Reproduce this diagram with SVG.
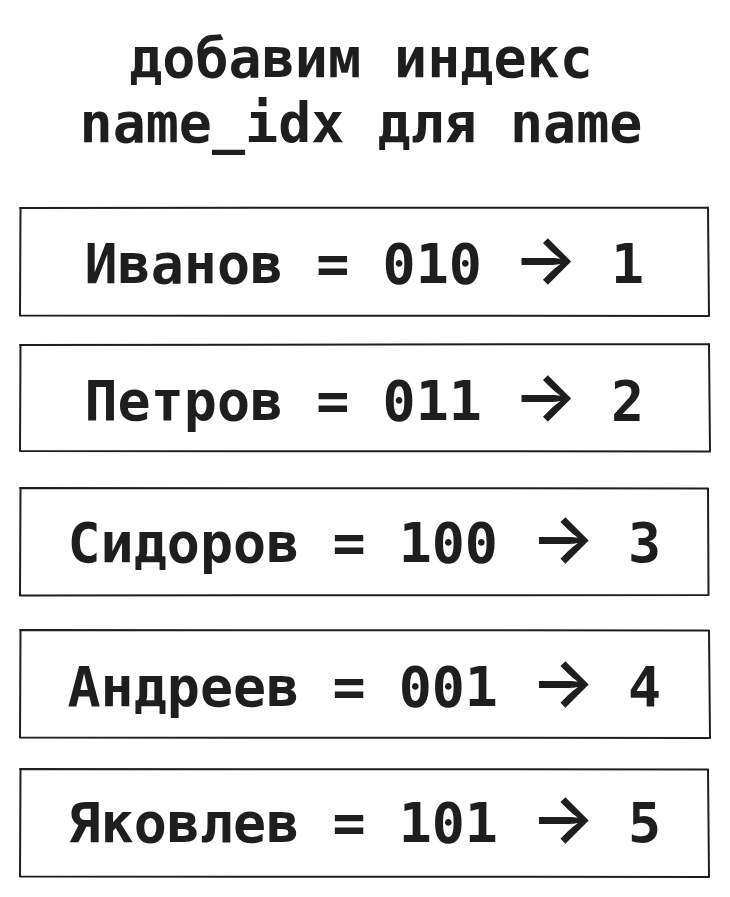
<svg xmlns="http://www.w3.org/2000/svg" width="730" height="897" viewBox="0 0 730 897">
<style>
.t{font-family:"DejaVu Sans Mono","Liberation Mono",monospace;font-weight:bold;fill:#1e1e1e}
.title{font-size:55px;text-anchor:middle}
.lbl{font-size:55px}
.arr{font-family:Inter,"DejaVu Sans",sans-serif;font-weight:600;font-size:68px}
.box{fill:none;stroke:#1e1e1e;stroke-width:2;stroke-linecap:round;stroke-linejoin:round}
</style>
<rect width="730" height="897" fill="#ffffff"/>
<g id="title">
<text class="t title" x="361" y="77">добавим индекс</text>
<text class="t title" x="361" y="142">name_idx для name</text>
</g>
<g id="connectors"></g>
<g id="node1">
<path class="box" d="M20 208 L708 207.5 M708 207.5 L709 316 M709 316 L20 315.5 M20 315.5 L20.5 208"/>
<text class="t lbl" y="283"><tspan x="84.5">Иванов = 010</tspan><tspan class="arr" x="545.5" text-anchor="middle">→</tspan><tspan x="627.5" text-anchor="middle">1</tspan></text>
</g>
<g id="node2">
<path class="box" d="M20 345 L709 344 M709 344 L710 451.5 M710 451.5 L20 451 M20 451 L20.5 345"/>
<text class="t lbl" y="420"><tspan x="84.5">Петров = 011</tspan><tspan class="arr" x="545.5" text-anchor="middle">→</tspan><tspan x="627.5" text-anchor="middle">2</tspan></text>
</g>
<g id="node3">
<path class="box" d="M20 488 L708 488.5 M708 488.5 L708.5 595 M708.5 595 L20 595.5 M20 595.5 L20.5 488"/>
<text class="t lbl" y="562"><tspan x="67.5">Сидоров = 100</tspan><tspan class="arr" x="563" text-anchor="middle">→</tspan><tspan x="644.5" text-anchor="middle">3</tspan></text>
</g>
<g id="node4">
<path class="box" d="M20 630 L709 630.5 M709 630.5 L710 738 M710 738 L20 737.5 M20 737.5 L20.5 630"/>
<text class="t lbl" y="706"><tspan x="67.5">Андреев = 001</tspan><tspan class="arr" x="563" text-anchor="middle">→</tspan><tspan x="644.5" text-anchor="middle">4</tspan></text>
</g>
<g id="node5">
<path class="box" d="M20 769 L708 769.5 M708 769.5 L709 877 M709 877 L20 876.5 M20 876.5 L20.5 769"/>
<text class="t lbl" y="842"><tspan x="67.5">Яковлев = 101</tspan><tspan class="arr" x="563" text-anchor="middle">→</tspan><tspan x="644.5" text-anchor="middle">5</tspan></text>
</g>
</svg>
